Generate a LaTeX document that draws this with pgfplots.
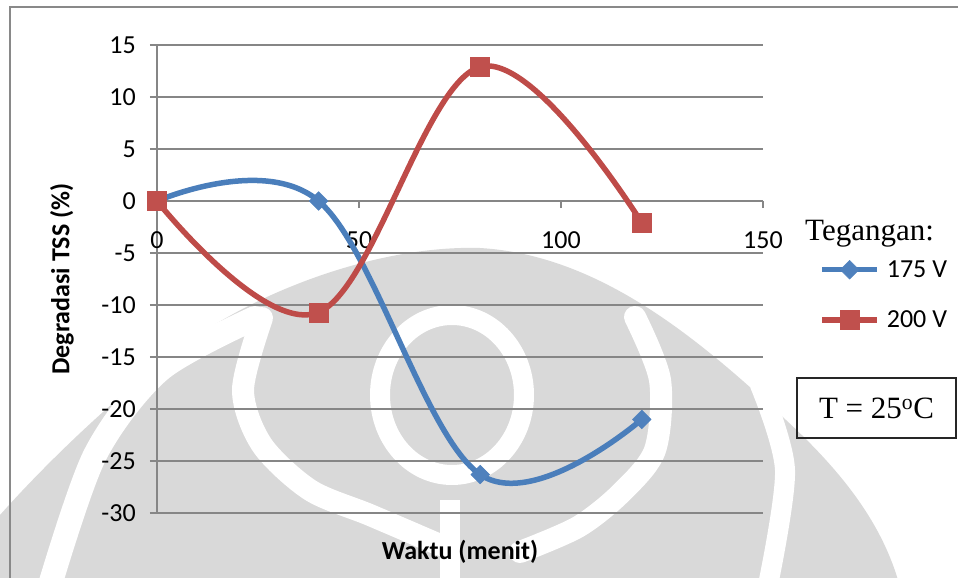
\documentclass[border=0pt]{standalone}
\usepackage{fontspec}
\setmainfont{Carlito}
\newfontfamily\tnr{Liberation Serif}
\usepackage{pgfplots}
\pgfplotsset{compat=1.18}

\definecolor{gridgray}{RGB}{134,134,134}
\definecolor{framegray}{RGB}{137,137,137}
\definecolor{wm}{RGB}{217,217,217}
\definecolor{blueline}{RGB}{74,126,187}
\definecolor{bluemark}{RGB}{79,129,189}
\definecolor{redline}{RGB}{190,75,72}
\definecolor{redmark}{RGB}{192,80,77}

\newcommand\chartfont{\fontsize{26bp}{31bp}\selectfont}
\newcommand\serifbig{\tnr\fontsize{31bp}{36bp}\selectfont}

\begin{document}
\begin{tikzpicture}
\useasboundingbox (0,0) rectangle (958bp,-578bp);

% faint emblem in the background
\begin{scope}[x=1bp,y=-1bp]
  \fill[wm] (0,580) -- (0,515)
    .. controls (40,470) and (110,400) .. (187,343)
    .. controls (260,290) and (380,245) .. (480,248)
    .. controls (600,255) and (700,340) .. (786,420)
    .. controls (840,470) and (880,520) .. (898,580) -- cycle;
  \begin{scope}[white, line cap=round]
    \draw[line width=24bp] plot[smooth] coordinates {(50,585) (95,455) (160,370) (255,318)};
    \draw[line width=22bp] plot[smooth] coordinates {(262,318) (243,390) (262,445) (310,490) (370,515) (440,545)};
    \draw[line width=20bp] (452,395) ellipse [x radius=72, y radius=80];
    \draw[line width=22bp] plot[smooth] coordinates {(635,317) (660,380) (655,450) (621,493) (578,527) (520,552)};
    \draw[line width=20bp] plot[smooth] coordinates {(760,385) (785,470) (768,585)};
    \fill (440,500) rectangle (460,580);
  \end{scope}
  \draw[framegray, line width=1.6bp] (10,590) -- (10,7) -- (970,7);
\end{scope}

\begin{axis}[
  at={(157bp,-513bp)}, anchor=south west,
  scale only axis, width=606bp, height=468bp,
  xmin=0, xmax=150, ymin=-30, ymax=15,
  axis x line=middle, axis y line=left,
  axis line style={gridgray, line width=1.8bp, -},
  xtick={0,50,100,150}, ytick={-30,-25,...,15},
  hide obscured x ticks=false,
  tick align=outside,
  major tick length=7bp,
  tick style={gridgray, line width=1.8bp},
  ymajorgrids, grid style={gridgray, line width=1.8bp},
  ticklabel style={font=\chartfont},
  /pgf/number format/assume math mode=true,
  xticklabel style={inner sep=0pt, anchor=north, yshift=-23bp},
  yticklabel style={inner sep=0pt, anchor=east, xshift=-14bp},
  xlabel={Waktu (menit)}, ylabel={Degradasi TSS (\%)},
  every axis x label/.style={at={(axis description cs:0.5,-0.083)}, anchor=center, font=\chartfont\bfseries},
  every axis y label/.style={at={(axis description cs:-0.157,0.5)}, anchor=center, rotate=90, font=\chartfont\bfseries},
  clip=false,
  legend style={at={(axis description cs:1.200,0.466)}, anchor=center, draw=none, fill=none,
    font=\chartfont, row sep=28bp, column sep=5bp, inner sep=0pt},
  legend cell align=left,
  legend image code/.code={\draw[#1, mark repeat=2, mark phase=2] plot coordinates {(0bp,0bp) (27.5bp,0bp) (55bp,0bp)};},
]
\addplot[blueline, line width=5.5bp, smooth, tension=0.61,
  mark=square*, mark size=6.6bp, mark options={solid, rotate=45, fill=bluemark, draw=bluemark, line width=0.5bp}]
  coordinates {(0,0) (40,0) (80,-26.3) (120,-21)};
\addlegendentry{175 V}
\addplot[redline, line width=5.5bp, smooth, tension=0.61,
  mark=square*, mark size=9.5bp, mark options={solid, fill=redmark, draw=redmark, line width=0.5bp}]
  coordinates {(0,0) (40,-10.7) (80,12.9) (120,-2.1)};
\addlegendentry{200 V}
\end{axis}

\node[anchor=base west, inner sep=0pt, font=\serifbig] at (805bp,-240bp) {Tegangan:};
\node[draw=black!85, line width=2.4bp, minimum width=159bp, minimum height=60bp, inner sep=0pt, font=\serifbig]
  at (876.5bp,-408bp) {T = 25\textsuperscript{o}C};
\end{tikzpicture}
\end{document}
